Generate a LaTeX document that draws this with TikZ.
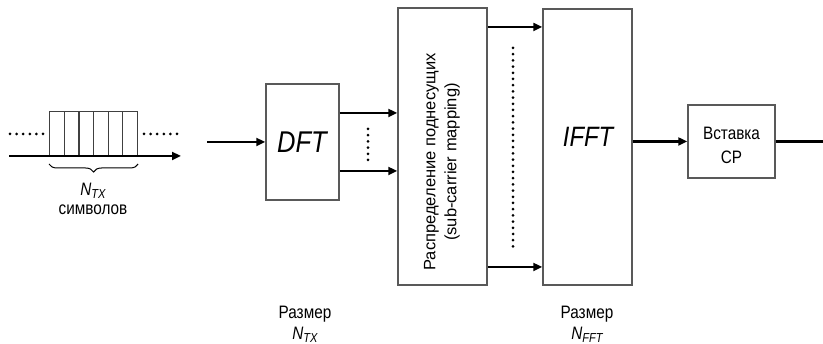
\documentclass[tikz,border=0pt]{standalone}
\usepackage{fontspec}
\setmainfont{Liberation Sans}[FakeStretch=0.85]
\newfontfamily\plainsans{Liberation Sans}
\usetikzlibrary{arrows.meta,decorations.pathreplacing}
\begin{document}
\begin{tikzpicture}[x=1pt,y=1pt,
  blk/.style={draw=black!65, line width=1.5pt, fill=white, inner sep=0pt},
  cell/.style={draw=black!75, line width=1.2pt, minimum width=14.65pt, minimum height=44pt, inner sep=0pt, anchor=south west},
  arr/.style={line width=2.4pt, -{Triangle[length=9pt,width=8pt]}},
  dots/.style={line width=3pt, line cap=round, dash pattern=on 0pt off 6.6pt},
  lbl/.style={font=\fontsize{18}{20}\selectfont, align=center, inner sep=1pt}]
\useasboundingbox (0,0) rectangle (823,-344);
% queue
\coordinate (qs) at (9,-156);
\coordinate (qe) at (181,-156);
\foreach \i in {0,...,5} {
  \node[cell] (c\i) at ({49+\i*14.65},-156) {};
}
\draw[arr] (qs) -- (qe);
\coordinate (dl1) at (10,-134); \coordinate (dl2) at (43,-134);
\coordinate (dr1) at (144,-134); \coordinate (dr2) at (177,-134);
\draw[dots] (dl1) -- (dl2);
\draw[dots] (dr1) -- (dr2);
\draw[line width=1pt, decorate, decoration={brace, mirror, amplitude=8pt}] ([yshift=-8pt]c0.south west) -- ([yshift=-8pt]c5.south east);
\node[lbl, anchor=base] (ntx) at (93,-196) {\textit{N\raisebox{-0.3ex}{\fontsize{13}{14}\selectfont TX}}};
\node[lbl, anchor=base] (sym) at (93,-215) {символов};
% DFT
\node[blk, minimum width=73pt, minimum height=116pt] (dft) at (302.5,-142) {};
\node[font=\itshape\fontsize{30}{32}\selectfont] (dftl) at (302,-142) {DFT};
\coordinate (in) at (207,-142);
\draw[arr] (in) -- (dft.west);
% mapping
\node[blk, minimum width=89pt, minimum height=277pt] (map) at (442.5,-146.5) {};
\node[align=center, rotate=90, font=\plainsans\fontsize{16.5}{21}\selectfont] (mapl) at (442,-162) {Распределение поднесущих\\(sub-carrier mapping)};
\draw[arr] (dft.east |- 0,-113) -- (map.west |- 0,-113);
\draw[arr] (dft.east |- 0,-171) -- (map.west |- 0,-171);
\coordinate (vd1) at (368,-129); \coordinate (vd2) at (368,-160);
\draw[dots, dash pattern=on 0pt off 6.2pt] (vd1) -- (vd2);
% IFFT
\node[blk, minimum width=89pt, minimum height=276pt] (ifft) at (587.5,-147) {};
\node[font=\itshape\fontsize{28}{30}\selectfont] (ifftl) at (588,-137) {IFFT};
\draw[arr] (map.east |- 0,-27) -- (ifft.west |- 0,-27);
\draw[arr] (map.east |- 0,-267) -- (ifft.west |- 0,-267);
\coordinate (md1) at (513,-48); \coordinate (md2) at (513,-247);
\draw[dots, dash pattern=on 0pt off 6.2pt] (md1) -- (md2);
% CP
\node[blk, minimum width=87pt, minimum height=73pt] (cp) at (731.5,-141.5) {};
\node[lbl, font=\fontsize{18}{24}\selectfont] (cpl) at (731.5,-145) {Вставка\\CP};
\draw[arr] (ifft.east |- cp.west) -- (cp.west);
\coordinate (out) at (823,-141.5);
\draw[line width=2.4pt] (cp.east) -- (out);
% bottom labels
\node[lbl, anchor=base] (s1a) at (305,-319) {Размер};
\node[lbl, anchor=base] (s1b) at (305,-340) {\textit{N\raisebox{-0.3ex}{\fontsize{13}{14}\selectfont TX}}};
\node[lbl, anchor=base] (s2a) at (587,-319) {Размер};
\node[lbl, anchor=base] (s2b) at (587,-340) {\textit{N\raisebox{-0.3ex}{\fontsize{13}{14}\selectfont FFT}}};
\end{tikzpicture}
\end{document}
